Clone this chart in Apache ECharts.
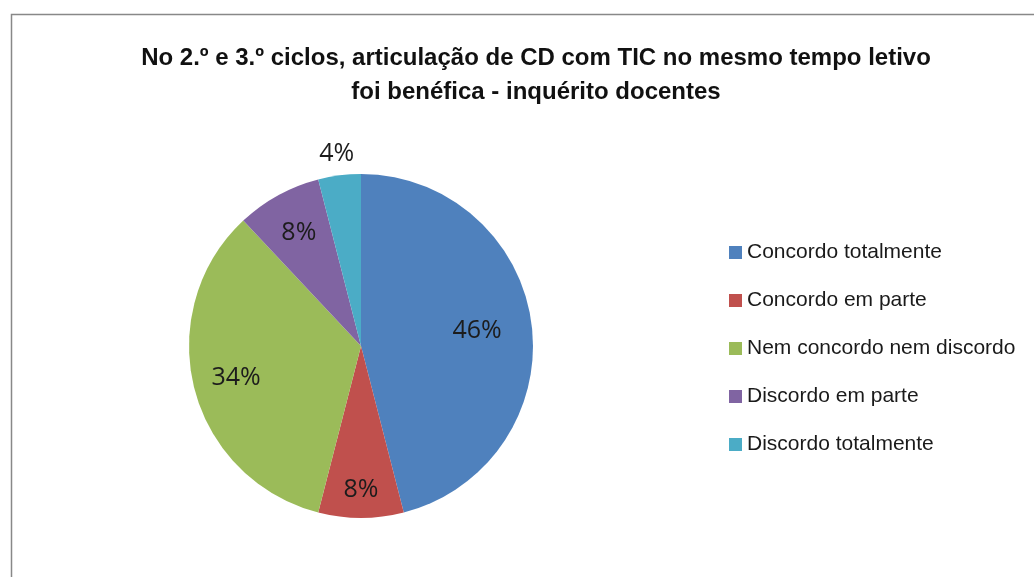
<!DOCTYPE html>
<html>
<head>
<meta charset="utf-8">
<script src="https://cdn.jsdelivr.net/npm/echarts@6/dist/echarts.min.js"></script>
<style>
  html, body { margin: 0; padding: 0; background: #fff; }
  #chart { width: 1034px; height: 577px; }
</style>
</head>
<body>
<div id="chart"></div>
<script>
// categories and shares (%)
const categories = [
  "Concordo totalmente",
  "Concordo em parte",
  "Nem concordo nem discordo",
  "Discordo em parte",
  "Discordo totalmente"
];
const values = [46, 8, 34, 8, 4];
const colors = ["#4f81bd", "#c0504d", "#9bbb59", "#8064a2", "#4bacc6"];

const titleText =
  "No 2.º e 3.º ciclos, articulação de CD com TIC no mesmo tempo letivo\nfoi benéfica - inquérito docentes";

const center = [361, 346];
const pieData = categories.map((name, i) => ({ name: name, value: values[i] }));

const labelStyle = {
  color: "#1c1c1c",
  fontFamily: "Open Sans, sans-serif",
  fontSize: 25,
  formatter: "{c}%"
};

// transparent helper pies used only to place the percentage labels
function labelPie(radius, showIndex) {
  return {
    type: "pie",
    silent: true,
    center: center,
    radius: radius,
    startAngle: 90,
    clockwise: true,
    itemStyle: { color: "rgba(0,0,0,0)" },
    labelLine: { show: false },
    emphasis: { disabled: true },
    data: pieData.map((d, i) => ({
      name: d.name,
      value: d.value,
      label: { show: showIndex(i) }
    })),
    label: Object.assign({ position: "inside" }, labelStyle)
  };
}

const chart = echarts.init(document.getElementById("chart"));
chart.setOption({
  animation: false,
  color: colors,
  title: {
    text: titleText,
    left: 531,
    top: 36,
    textAlign: "center",
    textStyle: {
      fontFamily: "Liberation Sans, Arial, sans-serif",
      fontWeight: "bold",
      fontSize: 24,
      lineHeight: 34,
      color: "#111"
    }
  },
  legend: {
    orient: "vertical",
    left: 724,
    top: 237,
    icon: "rect",
    itemWidth: 13,
    itemHeight: 13,
    itemGap: 27,
    data: categories,
    textStyle: {
      fontFamily: "Liberation Sans, Arial, sans-serif",
      fontSize: 21,
      lineHeight: 21,
      color: "#1a1a1a"
    }
  },
  graphic: [
    {
      type: "rect",
      left: 9,
      top: 12,
      shape: { x: 0, y: 0, width: 1100, height: 700 },
      style: { fill: "none", stroke: "#888", lineWidth: 1.5 },
      silent: true
    }
  ],
  series: [
    {
      type: "pie",
      center: center,
      radius: 172,
      startAngle: 90,
      clockwise: true,
      itemStyle: { borderWidth: 0 },
      label: { show: false },
      labelLine: { show: false },
      data: pieData
    },
    labelPie(228, i => i === 0),
    labelPie(252, i => i === 2 || i === 3),
    labelPie(282, i => i === 1),
    labelPie(382, i => i === 4)
  ]
});
</script>
</body>
</html>
